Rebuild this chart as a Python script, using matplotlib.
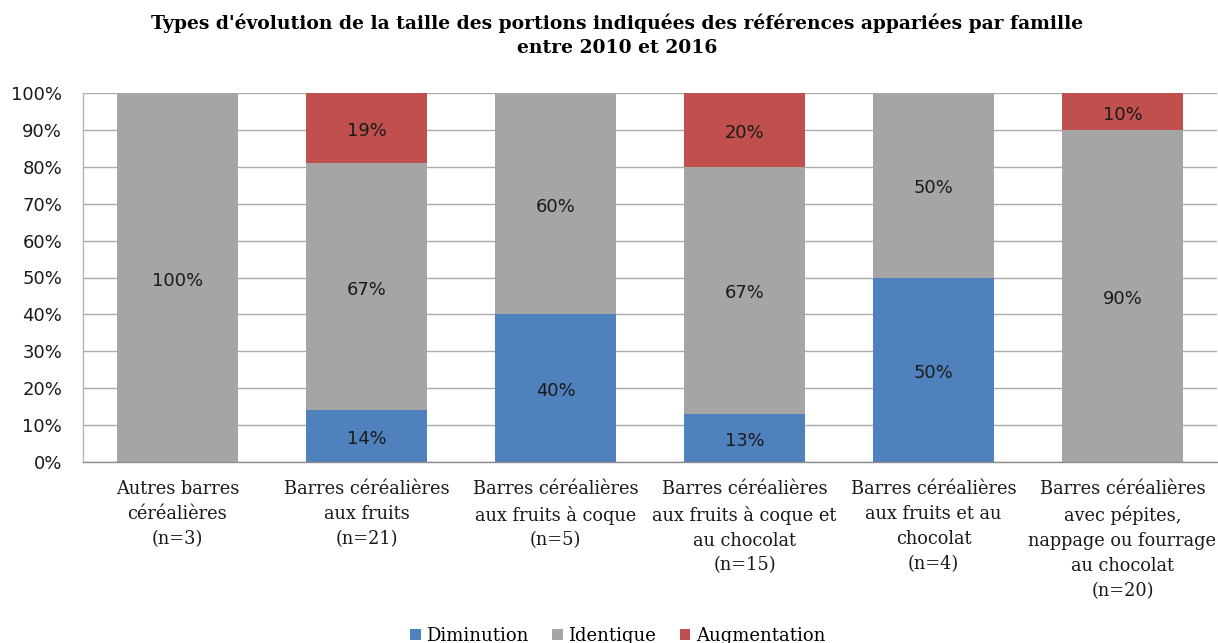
import matplotlib
matplotlib.use("Agg")
import matplotlib.pyplot as plt
import numpy as np

categories = [
    "Autres barres\ncéréalières\n(n=3)",
    "Barres céréalières\naux fruits\n(n=21)",
    "Barres céréalières\naux fruits à coque\n(n=5)",
    "Barres céréalières\naux fruits à coque et\nau chocolat\n(n=15)",
    "Barres céréalières\naux fruits et au\nchocolat\n(n=4)",
    "Barres céréalières\navec pépites,\nnappage ou fourrage\nau chocolat\n(n=20)",
]
diminution = [0, 14, 40, 13, 50, 0]
identique = [100, 67, 60, 67, 50, 90]
augmentation = [0, 19, 0, 20, 0, 10]
series_names = ["Diminution", "Identique", "Augmentation"]
colors = ["#4F81BD", "#A5A5A5", "#C0504D"]
yticks = [0, 10, 20, 30, 40, 50, 60, 70, 80, 90, 100]
title = "Types d'évolution de la taille des portions indiquées des références appariées par famille\nentre 2010 et 2016"

fig = plt.figure(figsize=(12.18, 6.43), dpi=100)
ax = fig.add_axes([83/1218, 1-462/643, (1217-83)/1218, (462-93)/643])

x = np.arange(len(categories))
bottom = np.zeros(len(categories))
handles = []
for vals, name, col in zip([diminution, identique, augmentation], series_names, colors):
    vals = np.array(vals, dtype=float)
    b = ax.bar(x, vals, 0.645, bottom=bottom, color=col, label=name, zorder=2)
    handles.append(b)
    for xi, v, bt in zip(x, vals, bottom):
        if v > 0:
            ax.annotate(f"{int(v)}%", (xi, bt + v/2), xytext=(0, -2.2),
                        textcoords="offset points", ha="center", va="center",
                        fontsize=12.9, family="DejaVu Sans", color="#1a1a1a", zorder=3)
    bottom += vals

ax.set_xlim(-0.5, len(categories) - 0.5)
ax.set_ylim(0, 100)
ax.set_yticks(yticks)
ax.set_yticklabels([f"{t}%" for t in yticks], fontsize=13, family="DejaVu Sans", color="#1a1a1a")
ax.yaxis.grid(True, color="#ababab", linewidth=1, zorder=0)
ax.set_axisbelow(True)
ax.tick_params(axis="y", length=0, pad=15)
ax.tick_params(axis="x", length=0, pad=13)
ax.set_xticks(x)
ax.set_xticklabels(categories, fontsize=12.8, family="DejaVu Serif", color="#1a1a1a",
                   va="top", linespacing=1.5)
for s in ["top", "right"]:
    ax.spines[s].set_visible(False)
ax.spines["left"].set_color("#b5b5b5")
ax.spines["bottom"].set_color("#8c8c8c")
for s in ["left", "bottom"]:
    ax.spines[s].set_linewidth(1)

fig.text(0.507, 1-35/643, title, ha="center", va="center", fontsize=13.5,
         family="DejaVu Serif", weight="bold", linespacing=1.45)

fig.legend(handles=handles, labels=series_names, loc="center",
           bbox_to_anchor=(0.507, 1-636/643), ncol=3, frameon=False,
           prop={"family": "DejaVu Serif", "size": 13}, handlelength=0.6,
           handleheight=0.6, handletextpad=0.3, columnspacing=1.3)

fig.savefig("out.png", dpi=100)
